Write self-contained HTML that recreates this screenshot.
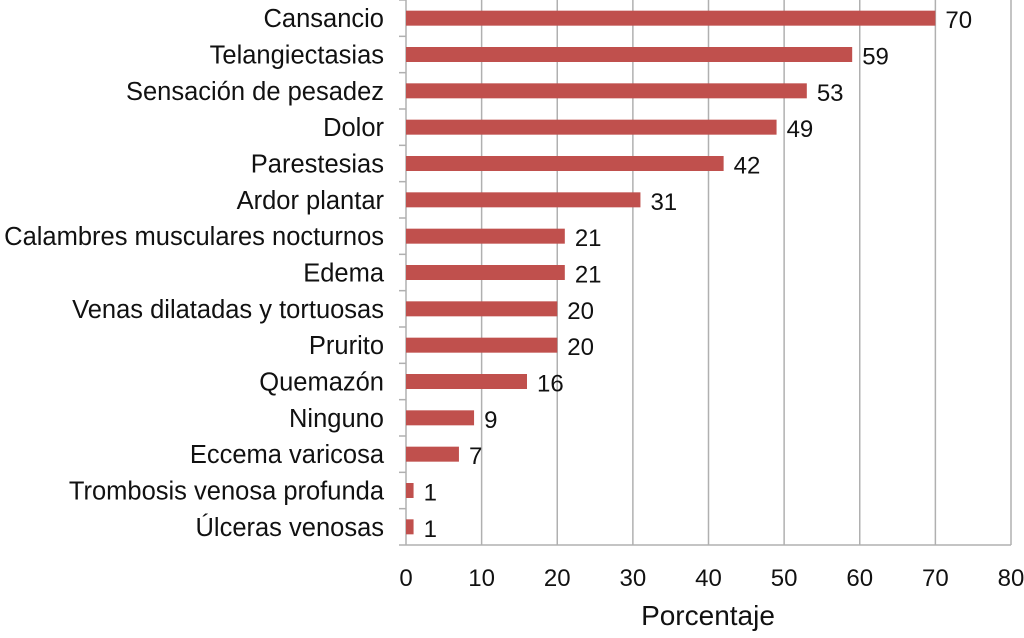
<!DOCTYPE html>
<html><head><meta charset="utf-8"><style>
body{margin:0;background:#fff;width:1024px;height:633px;overflow:hidden;font-family:"Liberation Sans",Arial,sans-serif}
svg text{font-family:"Liberation Sans",Arial,sans-serif;fill:#111}
</style></head><body>
<svg id="chart" width="1024" height="633" xmlns="http://www.w3.org/2000/svg"></svg>
<script>
const categories=["Cansancio","Telangiectasias","Sensación de pesadez","Dolor","Parestesias","Ardor plantar","Calambres musculares nocturnos","Edema","Venas dilatadas y tortuosas","Prurito","Quemazón","Ninguno","Eccema varicosa","Trombosis venosa profunda","Úlceras venosas"];
const values=[70,59,53,49,42,31,21,21,20,20,16,9,7,1,1];
const xTicks=[0,10,20,30,40,50,60,70,80];
const NS="http://www.w3.org/2000/svg";
const svg=document.getElementById('chart');
const x0=406,x1=1011,plotTop=0,plotBottom=545,xMax=80;
const xs=v=>x0+(x1-x0)*v/xMax;
const band=(plotBottom-plotTop)/categories.length;
const yc=i=>plotTop+band*(i+0.5);
function mk(t,a){const e=document.createElementNS(NS,t);for(const k in a)e.setAttribute(k,a[k]);svg.appendChild(e);return e;}
xTicks.forEach(t=>{
 if(t>0){const g=mk('line',{x1:xs(t),x2:xs(t),y1:plotTop,y2:plotBottom,stroke:'#b0b0b0','stroke-width':1.5});
 
 }
 const l=mk('text',{x:xs(t),y:586,'font-size':24,'text-anchor':'middle'});l.textContent=t;
 
 
});
const ax=mk('line',{x1:x0,x2:x1,y1:plotBottom,y2:plotBottom,stroke:'#b0b0b0','stroke-width':1.5});


const ay=mk('line',{x1:x0,x2:x0,y1:plotTop,y2:plotBottom,stroke:'#b0b0b0','stroke-width':1.5});


for(let i=0;i<=categories.length;i++){const tk=mk('line',{x1:x0-7,x2:x0,y1:plotTop+band*i,y2:plotTop+band*i,stroke:'#b0b0b0','stroke-width':1.5});
 
 }
categories.forEach((c,i)=>{
 const y=yc(i);
 const b=mk('rect',{x:x0,y:y-7.5,width:xs(values[i])-x0,height:15,fill:'#c0504d'});
 
 
 const lb=mk('text',{x:384,y:y+9,'font-size':25.5,'text-anchor':'end'});lb.textContent=c;
 
 
 const vl=mk('text',{x:xs(values[i])+10,y:y+10,'font-size':24});vl.textContent=values[i];
 
 
});
const xt=mk('text',{x:708,y:625,'font-size':28,'text-anchor':'middle'});xt.textContent='Porcentaje';


</script>
</body></html>
